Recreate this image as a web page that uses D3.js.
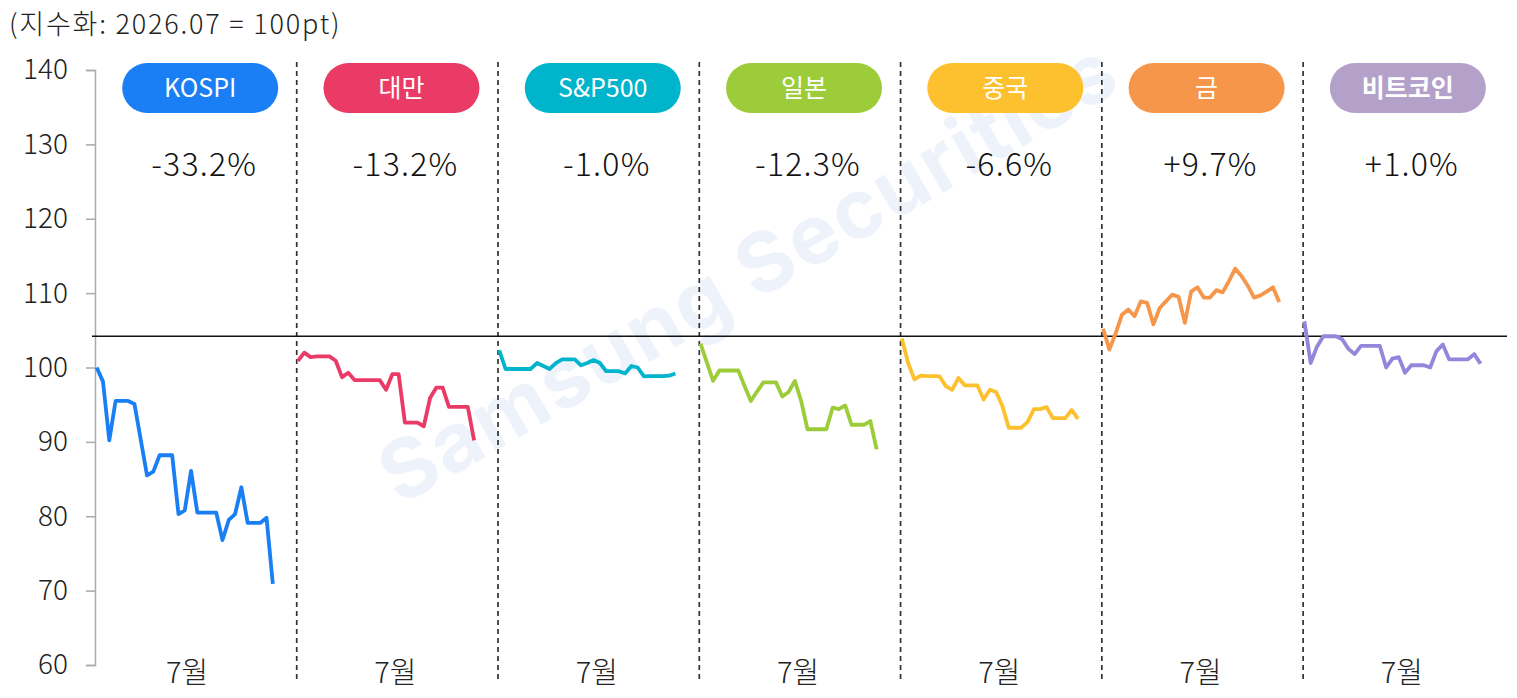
<!DOCTYPE html>
<html>
<head>
<meta charset="utf-8">
<script src="https://cdn.jsdelivr.net/npm/d3@7"></script>
<style>
  body { margin: 0; background: #fff; }
  text { font-family: "Noto Sans CJK KR", "Noto Sans", sans-serif; }
</style>
</head>
<body>
<div id="chart"></div>
<script>
var width = 1517;
var height = 698;

// data
var categories = ["KOSPI", "대만", "S&P500", "일본", "중국", "금", "비트코인"];
var changes = ["-33.2%", "-13.2%", "-1.0%", "-12.3%", "-6.6%", "+9.7%", "+1.0%"];
var kospi = [100.0, 98.1, 90.2, 95.5, 95.5, 95.5, 95.1, 90.3, 85.5, 86.0, 88.2, 88.2, 88.2, 80.3, 80.8, 86.1, 80.5, 80.5, 80.5, 80.5, 76.8, 79.5, 80.3, 83.9, 79.1, 79.1, 79.1, 79.8, 70.9];
var taiwan = [100.9, 102.0, 101.4, 101.5, 101.5, 101.5, 100.9, 98.7, 99.3, 98.3, 98.3, 98.3, 98.3, 98.3, 97.0, 99.1, 99.1, 92.6, 92.6, 92.6, 92.1, 95.9, 97.3, 97.3, 94.7, 94.7, 94.7, 94.7, 90.2];
var sp500 = [102.3, 99.8, 99.8, 99.8, 99.8, 99.8, 100.6, 100.2, 99.8, 100.6, 101.1, 101.1, 101.1, 100.3, 100.6, 101.0, 100.6, 99.5, 99.5, 99.5, 99.2, 100.2, 100.0, 98.8, 98.85, 98.85, 98.85, 98.9, 99.2];
var japan = [103.2, 100.7, 98.2, 99.6, 99.6, 99.6, 99.6, 97.5, 95.5, 96.8, 98.0, 98.0, 98.0, 96.1, 96.7, 98.2, 95.5, 91.7, 91.7, 91.7, 91.7, 94.6, 94.4, 94.9, 92.3, 92.3, 92.3, 92.8, 89.0];
var china = [103.9, 100.6, 98.4, 98.9, 98.85, 98.85, 98.8, 97.5, 97.0, 98.6, 97.6, 97.6, 97.6, 95.7, 97.0, 96.7, 94.8, 91.9, 91.9, 91.9, 92.7, 94.4, 94.4, 94.7, 93.2, 93.2, 93.2, 94.3, 93.1];
var gold = [105.2, 102.4, 104.6, 107.1, 107.8, 106.9, 108.9, 108.7, 105.8, 108.0, 108.9, 109.8, 109.5, 106.0, 110.2, 110.8, 109.4, 109.4, 110.4, 110.1, 111.6, 113.3, 112.3, 111.0, 109.4, 109.7, 110.2, 110.8, 108.8];
var bitcoin = [106.2, 100.6, 102.8, 104.2, 104.2, 104.2, 103.8, 102.5, 101.8, 102.9, 102.9, 102.9, 102.9, 100.0, 101.2, 101.4, 99.3, 100.3, 100.3, 100.3, 100.0, 102.2, 103.1, 101.1, 101.1, 101.1, 101.1, 101.8, 100.5];
var series = [kospi, taiwan, sp500, japan, china, gold, bitcoin];
var yTicks = [60, 70, 80, 90, 100, 110, 120, 130, 140];
var refLevel = 104.2;
var monthLabel = "7월";
var unitLabel = "(지수화: 2026.07 = 100pt)";

// styles
var lineColors = ["#1a7ef5", "#ea3a66", "#00b4cc", "#9ccc3a", "#fdc02e", "#f6964a", "#9586dc"];
var pillColors = ["#1a7ef5", "#ea3a66", "#00b4cc", "#9ccc3a", "#fdc02e", "#f6964a", "#b3a1c9"];

var slots = 32; // days per panel incl. gap
var svg = d3.select("#chart").append("svg")
    .attr("width", width)
    .attr("height", height);

var x = d3.scaleLinear()
    .domain([0, slots * 7])
    .range([96.7, 96.7 + slots * 7 * 6.29]);
var y = d3.scaleLinear()
    .domain([60, 140])
    .range([665, 70]);

// watermark
svg.append("text")
    .text("Samsung Securities")
    .attr("transform", "translate(748,272) rotate(-30)")
    .attr("text-anchor", "middle")
    .attr("dy", "0.35em")
    .style("font-family", "Inter, 'Noto Sans', sans-serif")
    .style("font-weight", "700")
    .style("font-size", "82px")
    .style("letter-spacing", "2px")
    .attr("fill", "#eef2fb");

// unit label
svg.append("text")
    .text(unitLabel)
    .attr("x", 9)
    .attr("y", 34)
    .style("font-size", "27px")
    .style("font-weight", "300")
    .style("letter-spacing", "1.8px")
    .attr("fill", "#222");

// y axis
var yAxis = d3.axisLeft(y).tickValues(yTicks).tickSize(9).tickPadding(18);
var gy = svg.append("g")
    .attr("transform", "translate(95,0)")
    .call(yAxis);
gy.select(".domain").attr("stroke", "#aaa").attr("stroke-width", 1.5);
gy.selectAll(".tick line").attr("stroke", "#aaa").attr("stroke-width", 1.5);
gy.selectAll(".tick text")
    .attr("fill", "#222")
    .style("font-size", "28px")
    .style("font-weight", "300")
    .style("font-family", "'Noto Sans CJK KR', sans-serif");

// dividers
for (var k = 1; k < 7; k++) {
    svg.append("line")
        .attr("x1", x(k * slots - 0.2))
        .attr("x2", x(k * slots - 0.2))
        .attr("y1", 62)
        .attr("y2", 679)
        .attr("stroke", "#333")
        .attr("stroke-width", 1.7)
        .attr("stroke-dasharray", "5,4");
}

// reference line
svg.append("line")
    .attr("x1", 92)
    .attr("x2", 1507)
    .attr("y1", y(refLevel))
    .attr("y2", y(refLevel))
    .attr("stroke", "#111")
    .attr("stroke-width", 1.6);

var line = d3.line()
    .x(function(d) { return x(d.i); })
    .y(function(d) { return y(d.v); });

for (var s = 0; s < series.length; s++) {
    var pts = series[s].map(function(v, i) { return { i: s * slots + i, v: v }; });
    svg.append("path")
        .datum(pts)
        .attr("d", line)
        .attr("fill", "none")
        .attr("stroke", lineColors[s])
        .attr("stroke-width", 3.8)
        .attr("stroke-linejoin", "round");

    var cx = x(s * slots + 15.5);
    var pcx = cx + 6;
    svg.append("rect")
        .attr("x", pcx - 78)
        .attr("y", 63)
        .attr("width", 156)
        .attr("height", 50)
        .attr("rx", 25)
        .attr("fill", pillColors[s]);
    svg.append("text")
        .text(categories[s])
        .attr("x", pcx)
        .attr("y", 97)
        .attr("text-anchor", "middle")
        .style("font-size", "25px")
        .style("font-weight", s == 6 ? "700" : "400")
        .attr("fill", "#fff");
    svg.append("text")
        .text(changes[s])
        .attr("x", pcx + 4)
        .attr("y", 176)
        .attr("text-anchor", "middle")
        .style("font-size", "32px")
        .style("font-weight", "300")
        .style("letter-spacing", "1.2px")
        .attr("fill", "#111");
    svg.append("text")
        .text(monthLabel)
        .attr("x", s == 0 ? cx - 7 : cx)
        .attr("y", 683)
        .attr("text-anchor", "middle")
        .style("font-size", "29px")
        .style("font-weight", "300")
        .attr("fill", "#222");
}
</script>
</body>
</html>
